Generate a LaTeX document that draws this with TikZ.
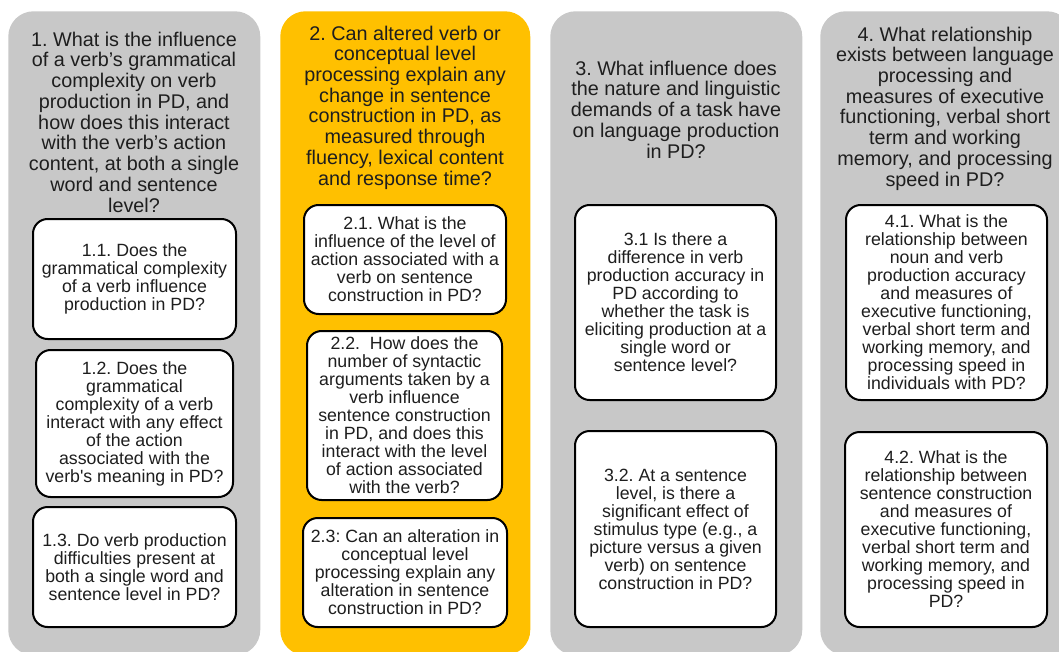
\documentclass[tikz,border=0pt]{standalone}
\usepackage{fontspec}
\setmainfont{Liberation Sans}
\frenchspacing
\definecolor{colgray}{HTML}{C8C8C8}
\definecolor{colgold}{HTML}{FFC000}
\definecolor{ink}{HTML}{1E1E1E}
% straight apostrophe glyph, not turned into a curly quote
\newcommand{\sq}{\XeTeXglyph\XeTeXcharglyph"0027\relax}
\begin{document}
\begin{tikzpicture}[x=0.75pt,y=-0.75pt,
  column/.style={rounded corners=19pt,inner sep=0pt,anchor=north west},
  headtext/.style={align=center,text=ink,inner sep=0pt,
    font=\fontsize{14.85pt}{15.56pt}\selectfont},
  qbox/.style={draw=black,fill=white,line width=1.5pt,rounded corners=11pt,
    align=center,text=ink,inner sep=0pt,
    font=\fontsize{13.3pt}{13.5pt}\selectfont}]
\useasboundingbox (0,0) rectangle (1059,651);
\clip (0,0) rectangle (1059,651);

% column panels
\node[column,fill=colgray,minimum width=189pt,minimum height=483pt] (c1) at (8,11) {};
\node[column,fill=colgold,minimum width=187.5pt,minimum height=483pt] (c2) at (280,11) {};
\node[column,fill=colgray,minimum width=189pt,minimum height=483pt] (c3) at (550,11) {};
\node[column,fill=colgray,minimum width=189pt,minimum height=483pt] (c4) at (820,11) {};

% column headings
\node[headtext] (h1) at (134,122) {1. What is the influence\\of a verb’s grammatical\\complexity on verb\\production in PD, and\\how does this interact\\with the verb’s action\\content, at both a single\\word and sentence\\level?};
\node[headtext] (h2) at (405,107.5) {2. Can altered verb or\\conceptual level\\processing explain any\\change in sentence\\construction in PD, as\\measured through\\fluency, lexical content\\and response time?};
\node[headtext] (h3) at (676,109.5) {3. What influence does\\the nature and linguistic\\demands of a task have\\on language production\\in PD?};
\node[headtext] (h4) at (945,108.5) {4. What relationship\\exists between language\\processing and\\measures of executive\\functioning, verbal short\\term and working\\memory, and processing\\speed in PD?};

% sub-questions, column 1
\node[qbox,minimum width=152.25pt,minimum height=90pt] (q11) at (134.5,279) {1.1. Does the\\grammatical complexity\\of a verb influence\\production in PD?};
\node[qbox,minimum width=147.75pt,minimum height=110.25pt] (q12) at (134.5,423.5) {1.2. Does the\\grammatical\\complexity of a verb\\interact with any effect\\of the action\\associated with the\\verb\sq s meaning in PD?};
\node[qbox,minimum width=152.25pt,minimum height=90pt] (q13) at (134.5,567) {1.3. Do verb production\\difficulties present at\\both a single word and\\sentence level in PD?};

% sub-questions, column 2
\node[qbox,minimum width=151.5pt,minimum height=81.75pt] (q21) at (405,259.5) {2.1. What is the\\influence of the level of\\action associated with a\\verb on sentence\\construction in PD?};
\node[qbox,minimum width=146.25pt,minimum height=126.75pt] (q22) at (404.5,415.5) {2.2.\ \ How does the\\number of syntactic\\arguments taken by a\\verb influence\\sentence construction\\in PD, and does this\\interact with the level\\of action associated\\with the verb?};
\node[qbox,minimum width=153pt,minimum height=81.75pt] (q23) at (405,572.5) {2.3: Can an alteration in\\conceptual level\\processing explain any\\alteration in sentence\\construction in PD?};

% sub-questions, column 3
\node[qbox,minimum width=150.75pt,minimum height=146.25pt] (q31) at (675.5,302.5) {3.1 Is there a\\difference in verb\\production accuracy in\\PD according to\\whether the task is\\eliciting production at a\\single word or\\sentence level?};
\node[qbox,minimum width=150.75pt,minimum height=147pt] (q32) at (675.5,529) {3.2. At a sentence\\level, is there a\\significant effect of\\stimulus type (e.g., a\\picture versus a given\\verb) on sentence\\construction in PD?};

% sub-questions, column 4
\node[qbox,minimum width=150.75pt,minimum height=146.25pt] (q41) at (946.5,302.5) {4.1. What is the\\relationship between\\noun and verb\\production accuracy\\and measures of\\executive functioning,\\verbal short term and\\working memory, and\\processing speed in\\individuals with PD?};
\node[qbox,minimum width=151.5pt,minimum height=146.25pt] (q42) at (946,529.5) {4.2. What is the\\relationship between\\sentence construction\\and measures of\\executive functioning,\\verbal short term and\\working memory, and\\processing speed in\\PD?};
\end{tikzpicture}
\end{document}
